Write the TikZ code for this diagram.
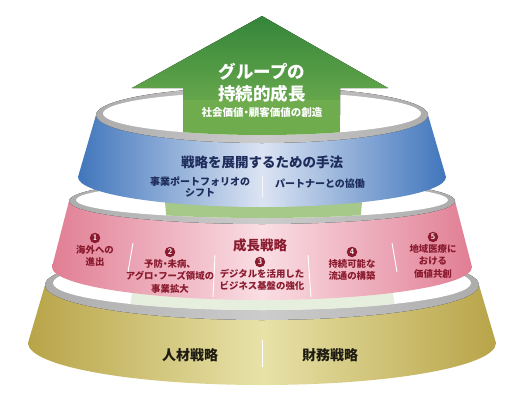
\documentclass[tikz,border=0pt]{standalone}
\usepackage{fontspec}
\usepackage{tikz}
\usetikzlibrary{positioning}
\newfontfamily\jp{Noto Sans CJK JP}
\newfontfamily\jpp{Noto Sans CJK JP}[RawFeature={+palt}]
\newcommand{\nakaguro}{{\jpp ・}}
\definecolor{arrowtop}{RGB}{52,133,58}
\definecolor{arrowbot}{RGB}{110,172,78}
\definecolor{blueedge}{RGB}{64,118,188}
\definecolor{bluemid}{RGB}{220,228,243}
\definecolor{pinkedge}{RGB}{225,126,148}
\definecolor{pinkmid}{RGB}{250,222,228}
\definecolor{goldedge}{RGB}{184,164,72}
\definecolor{goldmid}{RGB}{232,226,168}
\definecolor{navytext}{RGB}{30,45,92}
\definecolor{growthred}{RGB}{138,26,46}
\definecolor{goldtext}{RGB}{30,28,18}
\definecolor{greenpale}{RGB}{166,200,136}
\definecolor{greenfaint}{RGB}{230,238,222}
\tikzset{>=stealth}

\begin{document}
\begin{tikzpicture}[x=1pt, y=-1pt,
    rim/.style={left color=gray!65, right color=gray!65, middle color=gray!40},
    blueband/.style={left color=blueedge, right color=blueedge, middle color=bluemid},
    pinkband/.style={left color=pinkedge, right color=pinkedge, middle color=pinkmid},
    goldband/.style={left color=goldedge, right color=goldedge, middle color=goldmid},
    goaltext/.style={font=\jp\bfseries\fontsize{17.5}{17.5}\selectfont, text=white, inner sep=0pt},
    goalsub/.style={font=\jp\bfseries\fontsize{10.5}{10.5}\selectfont, text=white, inner sep=0pt},
    methodtitle/.style={font=\jp\bfseries\fontsize{13.5}{13.5}\selectfont, text=navytext, inner sep=0pt},
    methoditem/.style={font=\jp\bfseries\fontsize{10}{11}\selectfont, text=navytext, inner sep=0pt, align=center},
    growthtitle/.style={font=\jp\bfseries\fontsize{13.5}{13.5}\selectfont, text=growthred, inner sep=0pt},
    growthitem/.style={font=\jp\bfseries\fontsize{9.4}{12.5}\selectfont, text=growthred, inner sep=0pt, align=center},
    numdot/.style={circle, fill=growthred, text=white, inner sep=0pt, minimum size=10.5pt,
        font=\sffamily\bfseries\fontsize{8}{8}\selectfont},
    basetext/.style={font=\jp\bfseries\fontsize{14}{14}\selectfont, text=goldtext, inner sep=0pt},
    divider/.style={white, line width=0.9pt}
]
    \useasboundingbox (0,0) rectangle (520,413);
    \def\cx{262};

    % gold tier
    \def\yt{285}; \def\rt{217}; \def\ryt{35};
    \def\yb{343}; \def\rb{234}; \def\ryb{42};
    \path[goldband] (\cx-\rt, \yt) -- (\cx-\rb, \yb)
        arc[start angle=180, end angle=0, x radius=\rb, y radius=\ryb]
        -- (\cx+\rt, \yt)
        arc[start angle=0, end angle=180, x radius=\rt, y radius=\ryt] -- cycle;
    \fill[rim] (\cx, \yt) ellipse[x radius=\rt, y radius=\ryt];
    \fill[white] (\cx, \yt-2) ellipse[x radius=\rt-8, y radius=\ryt-8];
    \begin{scope}
        \clip (\cx, \yt-2) ellipse[x radius=\rt-8, y radius=\ryt-8];
        \fill[greenfaint] (134, 280) -- (128, 320) -- (397, 320) -- (391, 280) -- cycle;
    \end{scope}

    % pink tier
    \def\yt{201}; \def\rt{193}; \def\ryt{23};
    \def\yb{267}; \def\rb{210}; \def\ryb{33};
    \path[pinkband] (\cx-\rt, \yt) -- (\cx-\rb, \yb)
        arc[start angle=180, end angle=0, x radius=\rb, y radius=\ryb]
        -- (\cx+\rt, \yt)
        arc[start angle=0, end angle=180, x radius=\rt, y radius=\ryt] -- cycle;
    \fill[rim] (\cx, \yt) ellipse[x radius=\rt, y radius=\ryt];
    \fill[white] (\cx, \yt-1) ellipse[x radius=\rt-7, y radius=\ryt-5];
    \begin{scope}
        \clip (\cx, \yt-1) ellipse[x radius=\rt-7, y radius=\ryt-5];
        \fill[greenpale] (164, 190) -- (167, 226) -- (360, 226) -- (363, 190) -- cycle;
    \end{scope}

    % blue tier
    \def\yt{115}; \def\rt{166}; \def\ryt{28};
    \def\yb{177}; \def\rb{184}; \def\ryb{30};
    \path[blueband] (\cx-\rt, \yt) -- (\cx-\rb, \yb)
        arc[start angle=180, end angle=0, x radius=\rb, y radius=\ryb]
        -- (\cx+\rt, \yt)
        arc[start angle=0, end angle=180, x radius=\rt, y radius=\ryt] -- cycle;
    \fill[rim] (\cx, \yt) ellipse[x radius=\rt, y radius=\ryt];
    \fill[white] (\cx, \yt-1.5) ellipse[x radius=\rt-7, y radius=\ryt-6.5];

    % arrow
    \fill[top color=arrowtop, bottom color=arrowbot] (\cx, 16) -- (388, 88) -- (340, 88)
        -- (340, \yt) -- (183, \yt) -- (183, 88) -- (132, 88) -- cycle;
    \begin{scope}
        \clip (\cx, \yt-1.5) ellipse[x radius=\rt-7, y radius=\ryt-6.5];
        \fill[arrowbot] (183, 100) rectangle (340, 150);
    \end{scope}

    \node[goaltext] (goal1) at (\cx, 72) {グループの};
    \node[goaltext] (goal2) at (\cx, 94) {持続的成長};
    \node[goalsub] (goal3) at (\cx, 113) {社会価値\nakaguro 顧客価値の創造};

    % methods
    \node[methodtitle] (methods) at (\cx, 162) {戦略を展開するための手法};
    \node[methoditem] (portfolio) at (200, 187) {事業ポートフォリオの\\シフト};
    \node[methoditem] (partner) at (320, 184) {パートナーとの協働};
    \draw[divider, white!70!bluemid] (\cx, 176) -- (\cx, 197);

    % growth strategy
    \node[growthtitle] (growth) at (260, 245) {成長戦略};
    \node[numdot] (num1) at (95, 238) {1};
    \node[numdot] (num2) at (170, 252) {2};
    \node[numdot] (num3) at (260, 262) {3};
    \node[numdot] (num4) at (352, 252) {4};
    \node[numdot] (num5) at (433, 237) {5};
    \node[growthitem, below=1.5pt of num1] (item1) {海外への\\進出};
    \node[growthitem, below=1.5pt of num2] (item2) {予防\nakaguro 未病、\\アグロ\nakaguro フーズ領域の\\事業拡大};
    \node[growthitem, below=1.5pt of num3, xshift=2pt] (item3) {デジタルを活用した\\ビジネス基盤の強化};
    \node[growthitem, below=1.5pt of num4] (item4) {持続可能な\\流通の構築};
    \node[growthitem, below=1.5pt of num5] (item5) {地域医療に\\おける\\価値共創};
    \draw[divider] (133, 243) -- (128, 272);
    \draw[divider] (215, 255) -- (213, 297);
    \draw[divider] (308, 255) -- (311, 297);
    \draw[divider] (392, 243) -- (397, 272);

    % base
    \node[basetext] (people) at (190, 355) {人材戦略};
    \node[basetext] (finance) at (330, 355) {財務戦略};
    \draw[divider] (\cx, 340) -- (\cx, 367);
\end{tikzpicture}
\end{document}
